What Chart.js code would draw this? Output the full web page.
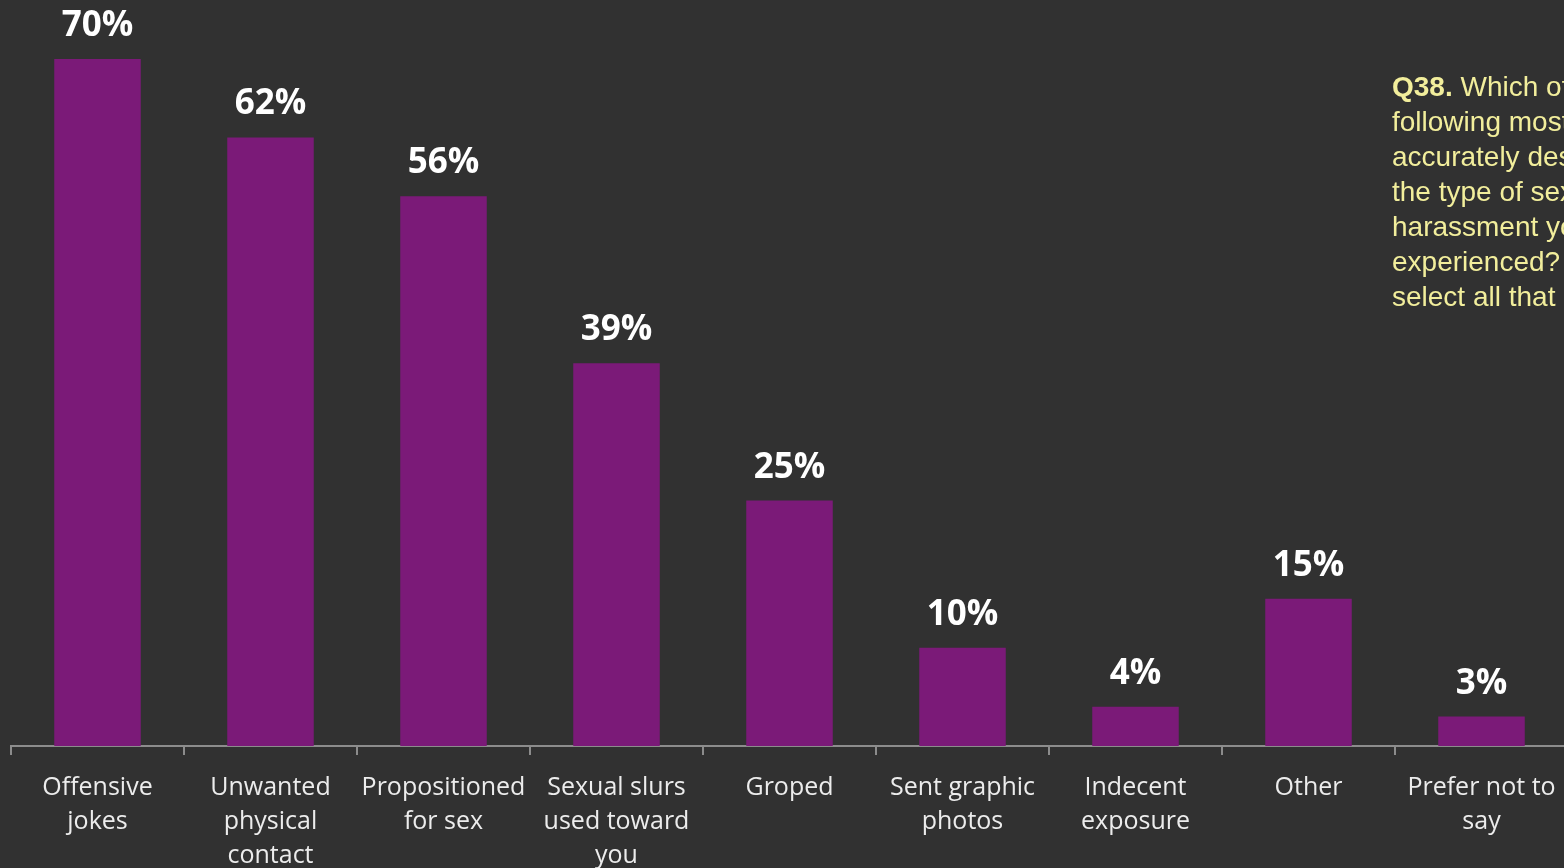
<!DOCTYPE html>
<html>
<head>
<meta charset="utf-8">
<script src="https://cdn.jsdelivr.net/npm/chart.js@4/dist/chart.umd.min.js"></script>
<style>
  html, body { margin: 0; padding: 0; background: #313131; overflow: hidden; width: 1564px; height: 868px; }
  #wrap { position: absolute; left: 0; top: 0; width: 1580px; height: 868px; }
  #note {
    position: absolute; left: 1392px; top: 69px;
    font-family: "Liberation Sans", Arial, sans-serif; font-size: 28px; line-height: 35px;
    color: #f2ee9c; white-space: nowrap;
  }
  #note b { font-weight: bold; }
</style>
</head>
<body>
<div id="wrap"><canvas id="chart" width="1580" height="868"></canvas></div>
<div id="note"><b>Q38.</b> Which of the<br>following most<br>accurately describes<br>the type of sexual<br>harassment you<br>experienced? Please<br>select all that apply.</div>
<script>
// harassment types and share of respondents (%)
const categories = [
  ["Offensive", "jokes"],
  ["Unwanted", "physical", "contact"],
  ["Propositioned", "for sex"],
  ["Sexual slurs", "used toward", "you"],
  ["Groped"],
  ["Sent graphic", "photos"],
  ["Indecent", "exposure"],
  ["Other"],
  ["Prefer not to", "say"]
];
const values = [70, 62, 56, 39, 25, 10, 4, 15, 3];

// value labels above each bar
const barLabels = {
  id: "barLabels",
  afterDatasetsDraw(chart) {
    const ctx = chart.ctx;
    const meta = chart.getDatasetMeta(0);
    ctx.save();
    ctx.font = "bold 35px 'Open Sans'";
    ctx.fillStyle = "#ffffff";
    ctx.textAlign = "center";
    ctx.textBaseline = "alphabetic";
    meta.data.forEach((bar, i) => {
      ctx.fillText(values[i] + "%", bar.x, bar.y - 23);
    });
    ctx.restore();
  }
};

new Chart(document.getElementById("chart"), {
  type: "bar",
  data: {
    labels: categories,
    datasets: [{
      data: values,
      backgroundColor: "#7b1a78",
      categoryPercentage: 1,
      barPercentage: 0.5
    }]
  },
  options: {
    responsive: false,
    animation: false,
    layout: { padding: { left: 11, right: 12, top: 0, bottom: 0 } },
    plugins: {
      legend: { display: false },
      tooltip: { enabled: false }
    },
    scales: {
      y: {
        display: false,
        min: 0,
        max: 76
      },
      x: {
        afterFit(scale) { scale.height = 122; },
        border: { display: true, color: "#8c8c8c", width: 2 },
        grid: {
          display: true,
          drawOnChartArea: false,
          drawTicks: true,
          tickLength: 9,
          color: "#8c8c8c",
          lineWidth: 2
        },
        ticks: {
          color: "#ececec",
          padding: 16,
          maxRotation: 0,
          autoSkip: false,
          font: { family: "'Open Sans'", size: 25, lineHeight: 1.36 }
        }
      }
    }
  },
  plugins: [barLabels]
});
</script>
</body>
</html>
